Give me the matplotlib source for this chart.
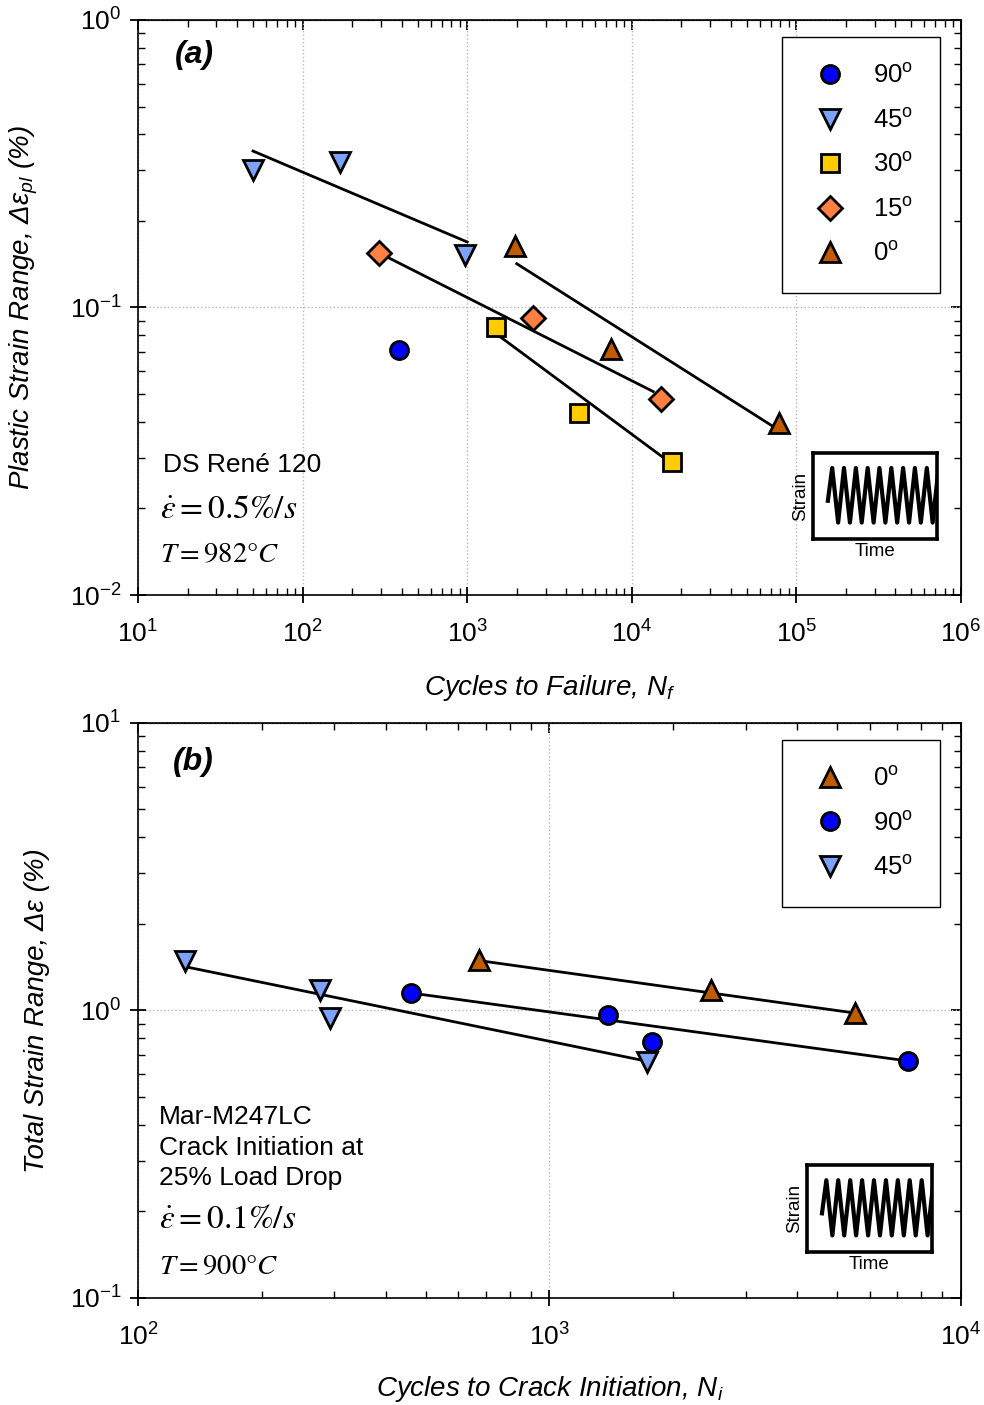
import matplotlib
matplotlib.use("Agg")
import matplotlib.pyplot as plt
from matplotlib.lines import Line2D
from matplotlib.ticker import NullFormatter

plt.rcParams["font.family"] = ["Liberation Sans", "DejaVu Sans"]
plt.rcParams["mathtext.fontset"] = "custom"
plt.rcParams["mathtext.rm"] = "Liberation Sans"
plt.rcParams["mathtext.it"] = "Liberation Sans:italic"
plt.rcParams["mathtext.bf"] = "Liberation Sans:bold"

# ---- panel (a): DS René 120, plastic strain range vs cycles to failure ----
a90_N = [385]
a90_e = [0.071]
a45_N = [50, 170, 970]
a45_e = [0.30, 0.32, 0.152]
a30_N = [1500, 4800, 17500]
a30_e = [0.0855, 0.043, 0.029]
a15_N = [290, 2500, 15000]
a15_e = [0.155, 0.092, 0.048]
a0_N = [1950, 7500, 78000]
a0_e = [0.164, 0.072, 0.0397]

a45_fit_N = [50, 1000]
a45_fit_e = [0.35, 0.169]
a30_fit_N = [1500, 16000]
a30_fit_e = [0.081, 0.0297]
a15_fit_N = [290, 13500]
a15_fit_e = [0.155, 0.051]
a0_fit_N = [2000, 78000]
a0_fit_e = [0.142, 0.0375]

# ---- panel (b): Mar-M247LC, total strain range vs cycles to crack initiation ----
b0_N = [675, 2470, 5520]
b0_e = [1.50, 1.18, 0.98]
b90_N = [460, 1390, 1775, 7430]
b90_e = [1.15, 0.965, 0.775, 0.667]
b45_N = [130, 277, 293, 1730]
b45_e = [1.49, 1.18, 0.94, 0.66]

b0_fit_N = [675, 5500]
b0_fit_e = [1.49, 0.98]
b90_fit_N = [460, 7430]
b90_fit_e = [1.15, 0.667]
b45_fit_N = [130, 1730]
b45_fit_e = [1.42, 0.665]

# schematic strain-time waveform for the insets
wave_x = [0.12, 0.155, 0.203, 0.250, 0.298, 0.346, 0.393, 0.441, 0.489, 0.536,
          0.584, 0.632, 0.679, 0.727, 0.775, 0.822, 0.870, 0.918, 0.965, 1.013]
wave_y = [-0.2, 1, -1, 1, -1, 1, -1, 1, -1, 1, -1, 1, -1, 1, -1, 1, -1, 1, -1, 1]

styles = {
    "90": dict(marker="o", markersize=13, markerfacecolor="#0000FF"),
    "45": dict(marker="v", markersize=15, markerfacecolor="#7DA2FA"),
    "30": dict(marker="s", markersize=12.5, markerfacecolor="#FFCC00"),
    "15": dict(marker="D", markersize=12, markerfacecolor="#FF8040"),
    "0": dict(marker="^", markersize=15, markerfacecolor="#C05C00"),
}


def pts(ax, N, e, key):
    ax.plot(N, e, linestyle="none", markeredgecolor="black", markeredgewidth=2,
            zorder=5, **styles[key])


def fit(ax, N, e):
    ax.plot(N, e, color="black", linewidth=2, zorder=4)


def handle(key):
    return Line2D([], [], linestyle="none", markeredgecolor="black",
                  markeredgewidth=2, **styles[key])


def style_axes(ax):
    ax.set_xscale("log")
    ax.set_yscale("log")
    for s in ax.spines.values():
        s.set_linewidth(1.2)
    ax.tick_params(which="major", direction="inout", length=12, width=1.3,
                   labelsize=19, pad=6, top=False, right=False)
    ax.tick_params(axis="x", which="major", pad=12)
    ax.tick_params(which="minor", direction="in", length=5, width=1,
                   top=False, right=False)
    ax.xaxis.set_minor_formatter(NullFormatter())
    ax.yaxis.set_minor_formatter(NullFormatter())
    ax.grid(True, which="major", linestyle=":", color="#b8b8b8", linewidth=1)
    tx = ax.secondary_xaxis("top")
    tx.tick_params(which="major", direction="in", length=7, width=1.3, labeltop=False)
    tx.tick_params(which="minor", direction="in", length=5, width=1)
    tx.xaxis.set_minor_formatter(NullFormatter())
    ty = ax.secondary_yaxis("right")
    ty.tick_params(which="major", direction="in", length=7, width=1.3, labelright=False)
    ty.tick_params(which="minor", direction="in", length=5, width=1)
    ty.yaxis.set_minor_formatter(NullFormatter())


def legend(ax, keys):
    leg = ax.legend([handle(k) for k in keys], [k + r"$^{\rm o}$" for k in keys],
                    loc="upper right", bbox_to_anchor=(0.9745, 0.9704), borderaxespad=0,
                    fontsize=18.5, frameon=True, fancybox=False, edgecolor="black",
                    framealpha=1, borderpad=1.05, handlelength=1.65, handletextpad=0.85,
                    labelspacing=0.8)
    leg.get_frame().set_linewidth(1)


def inset(fig, rect):
    ia = fig.add_axes(rect)
    ia.plot(wave_x, wave_y, color="black", linewidth=3)
    ia.set_xlim(0, 1)
    ia.set_ylim(-1.6, 1.55)
    ia.set_xticks([])
    ia.set_yticks([])
    for s in ia.spines.values():
        s.set_linewidth(2.6)
    ia.set_xlabel("Time", fontsize=13.5, labelpad=3)
    ia.set_ylabel("Strain", fontsize=13.5, labelpad=3)


fig = plt.figure(figsize=(9.84, 14.05), dpi=100)

# ---------------- panel (a) ----------------
ax1 = fig.add_axes([0.1402, 0.5765, 0.8364, 0.4093])
style_axes(ax1)
fit(ax1, a45_fit_N, a45_fit_e)
fit(ax1, a30_fit_N, a30_fit_e)
fit(ax1, a15_fit_N, a15_fit_e)
fit(ax1, a0_fit_N, a0_fit_e)
pts(ax1, a90_N, a90_e, "90")
pts(ax1, a45_N, a45_e, "45")
pts(ax1, a30_N, a30_e, "30")
pts(ax1, a15_N, a15_e, "15")
pts(ax1, a0_N, a0_e, "0")
ax1.set_xlim(10, 1e6)
ax1.set_ylim(0.01, 1)
ax1.set_xlabel(r"Cycles to Failure, N$_{f}$", fontsize=20, style="italic")
ax1.set_ylabel(r"Plastic Strain Range, Δε$_{pl}$ (%)", fontsize=20, style="italic")
ax1.xaxis.set_label_coords(0.5, -0.135)
ax1.yaxis.set_label_coords(-0.119, 0.5)
legend(ax1, ["90", "45", "30", "15", "0"])
ax1.text(0.045, 0.939, "(a)", transform=ax1.transAxes, fontsize=23,
         fontweight="bold", style="italic", va="center")
ax1.text(0.0304, 0.226, "DS René 120", transform=ax1.transAxes, fontsize=19, va="center")
ax1.text(0.0267, 0.148, r"$\dot{\varepsilon} = 0.5\%/s$", transform=ax1.transAxes,
         fontsize=24, va="center", math_fontfamily="stix")
ax1.text(0.0267, 0.0696, r"$T = 982°C$", transform=ax1.transAxes,
         fontsize=20.5, va="center", math_fontfamily="stix")
inset(fig, [0.8262, 0.6164, 0.126, 0.0612])

# ---------------- panel (b) ----------------
ax2 = fig.add_axes([0.1402, 0.0762, 0.8364, 0.4093])
style_axes(ax2)
fit(ax2, b0_fit_N, b0_fit_e)
fit(ax2, b90_fit_N, b90_fit_e)
fit(ax2, b45_fit_N, b45_fit_e)
pts(ax2, b0_N, b0_e, "0")
pts(ax2, b90_N, b90_e, "90")
pts(ax2, b45_N, b45_e, "45")
ax2.set_xlim(100, 1e4)
ax2.set_ylim(0.1, 10)
ax2.set_xlabel(r"Cycles to Crack Initiation, N$_{i}$", fontsize=20, style="italic")
ax2.set_ylabel(r"Total Strain Range, Δε (%)", fontsize=20, style="italic")
ax2.xaxis.set_label_coords(0.5, -0.133)
ax2.yaxis.set_label_coords(-0.107, 0.5)
legend(ax2, ["0", "90", "45"])
ax2.text(0.0425, 0.932, "(b)", transform=ax2.transAxes, fontsize=23,
         fontweight="bold", style="italic", va="center")
ax2.text(0.0255, 0.315, "Mar-M247LC", transform=ax2.transAxes, fontsize=19, va="center")
ax2.text(0.0255, 0.261, "Crack Initiation at", transform=ax2.transAxes, fontsize=19, va="center")
ax2.text(0.0255, 0.209, "25% Load Drop", transform=ax2.transAxes, fontsize=19, va="center")
ax2.text(0.0255, 0.136, r"$\dot{\varepsilon} = 0.1\%/s$", transform=ax2.transAxes,
         fontsize=24, va="center", math_fontfamily="stix")
ax2.text(0.0255, 0.054, r"$T = 900°C$", transform=ax2.transAxes,
         fontsize=20.5, va="center", math_fontfamily="stix")
inset(fig, [0.8201, 0.1089, 0.127, 0.0619])

fig.savefig("out.png", dpi=100)
